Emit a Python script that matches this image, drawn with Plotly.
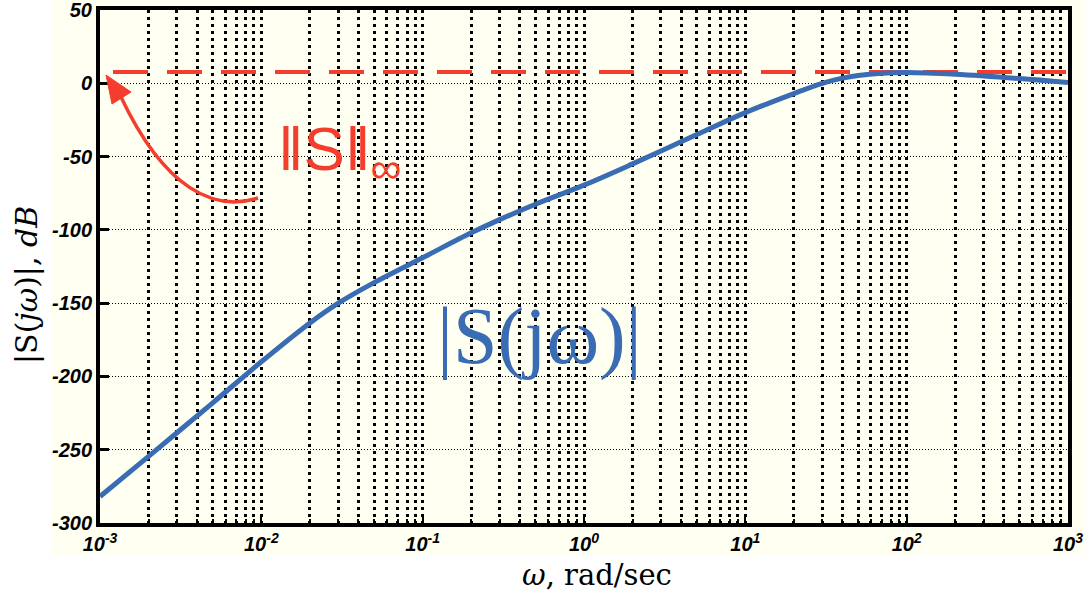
import plotly.graph_objects as go

# ---- data ----
omega = [0.001, 0.002, 0.005, 0.01, 0.02, 0.03, 0.05, 0.1, 0.2, 0.3, 0.5, 1, 2, 5, 10, 20, 30, 40, 50, 70, 100, 200, 500, 1000]
S_dB = [-282, -254.5, -218, -190, -163.5, -150, -136, -119, -102, -93, -82.5, -69.5, -55, -35, -20, -7, 0, 3.5, 5.3, 6.8, 7.3, 6.1, 3.2, 0.5]
hinf_omega = [0.001, 1000]
hinf_dB = [7.7, 7.7]

x_major = [1e-3, 1e-2, 1e-1, 1, 10, 100, 1000]
x_major_text = ["10<sup>-3</sup>", "10<sup>-2</sup>", "10<sup>-1</sup>", "10<sup>0</sup>",
                "10<sup>1</sup>", "10<sup>2</sup>", "10<sup>3</sup>"]
x_minor = [m * 10.0 ** e for e in range(-3, 3) for m in range(2, 10)]
y_ticks = [-300, -250, -200, -150, -100, -50, 0, 50]
y_ticktext = ["-300", "-250", "-200", "-150", "-100", "-50", "0", "50"]

W, H = 1089, 598
L, R, T, B = 100, 1068, 10, 523


def px(x):
    return (x - L) / (R - L)


def py(y):
    return (B - y) / (B - T)


IVORY = "#FFFFF2"
RED = "#F53D2E"
BLUE = "#3A6CB4"

fig = go.Figure()
fig.add_trace(go.Scatter(x=hinf_omega, y=hinf_dB, mode="lines",
                         line=dict(color=RED, width=4, dash="0px,13px,35px,6px"),
                         hoverinfo="skip", showlegend=False))
fig.add_trace(go.Scatter(x=omega, y=S_dB, mode="lines",
                         line=dict(color=BLUE, width=5, shape="spline", smoothing=1.0),
                         showlegend=False))

tickfont = dict(family="Liberation Sans", size=20, color="black", weight="bold", style="italic")

fig.update_xaxes(type="log", range=[-3, 3], tickvals=x_major, ticktext=x_major_text,
                 tickfont=tickfont, showgrid=True, gridcolor="black", gridwidth=3,
                 griddash="3px,4px", showline=True, linecolor="black", linewidth=4,
                 mirror=True, ticks="inside", ticklen=6, tickwidth=2, tickcolor="black",
                 zeroline=False, automargin=False, ticklabeloverflow="allow",
                 minor=dict(tickvals=x_minor, showgrid=True, gridcolor="black", gridwidth=3,
                            griddash="3px,4px", ticks="inside", ticklen=4, tickcolor="black"))
fig.update_yaxes(range=[-300, 50], tickvals=y_ticks, ticktext=y_ticktext, tickfont=tickfont,
                 showgrid=True, gridcolor="black", gridwidth=1.3, griddash="1px,2px",
                 showline=True, linecolor="black", linewidth=4, mirror=True, automargin=False,
                 ticklabeloverflow="allow",
                 ticks="inside", ticklen=9, tickwidth=3, tickcolor="black", zeroline=False)

shapes = [
    dict(type="rect", xref="paper", yref="paper", x0=px(52), x1=px(1086), y0=py(0), y1=py(556),
         fillcolor=IVORY, line=dict(width=0), layer="below"),
    dict(type="path", xref="paper", yref="paper",
         path=f"M {px(258)},{py(198)} C {px(215)},{py(212)} {px(165)},{py(190)} {px(121)},{py(97)}",
         line=dict(color=RED, width=3.5), layer="above"),
    dict(type="path", xref="paper", yref="paper",
         path=f"M {px(106)},{py(75)} L {px(112)},{py(104)} L {px(131)},{py(92)} Z",
         fillcolor=RED, line=dict(color=RED, width=1), layer="above"),
]

annotations = [
    dict(text="‖S‖<sub>∞</sub>", xref="paper", yref="paper", x=px(340), y=py(153),
         xanchor="center", yanchor="middle", showarrow=False,
         font=dict(family="Liberation Sans Narrow, Liberation Sans", size=62, color=RED)),
    dict(text="|S(jω)|", xref="paper", yref="paper", x=px(539), y=py(336),
         xanchor="center", yanchor="middle", showarrow=False,
         font=dict(family="Liberation Serif", size=80, color=BLUE)),
    dict(text="|S(<i>jω</i>)|, <i>dB</i>", xref="paper", yref="paper", x=px(26), y=py(285),
         xanchor="center", yanchor="middle", textangle=-90, showarrow=False,
         font=dict(family="DejaVu Serif", size=30, color="black")),
    dict(text="<i>ω</i>, rad/sec", xref="paper", yref="paper", x=px(597), y=py(575),
         xanchor="center", yanchor="middle", showarrow=False,
         font=dict(family="DejaVu Serif", size=29, color="black")),
]

fig.update_layout(width=W, height=H, margin=dict(l=L, r=W - R, t=T, b=H - B, autoexpand=False),
                  paper_bgcolor="white", plot_bgcolor="rgba(0,0,0,0)",
                  shapes=shapes, annotations=annotations, showlegend=False)

fig.write_html("out.html", config={"displayModeBar": False},
               post_script="document.body.style.margin='0';")
